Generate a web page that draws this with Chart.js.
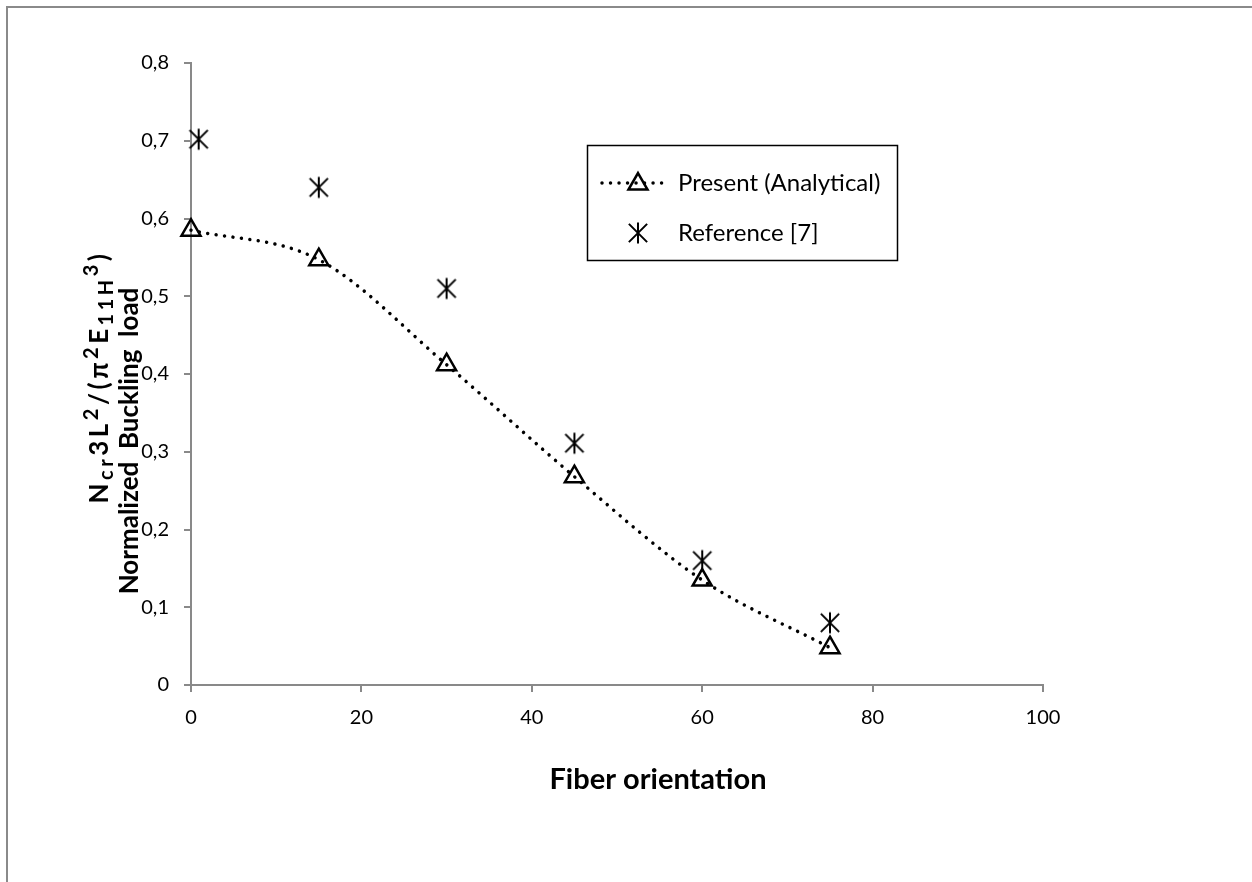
<!DOCTYPE html>
<html>
<head>
<meta charset="utf-8">
<script src="https://cdn.jsdelivr.net/npm/chart.js"></script>
<style>
  body { margin: 0; background: #fff; }
  #wrap { width: 1252px; height: 882px; position: relative; }
</style>
</head>
<body>
<div id="wrap"><canvas id="bucklingChart"></canvas></div>
<script>
// fiber orientation (deg)
const angles = [0, 15, 30, 45, 60, 75];
const presentVals = [0.585, 0.547, 0.412, 0.268, 0.135, 0.048];
const refAngles = [0.9, 15, 30, 45, 60, 75];
const refVals = [0.702, 0.640, 0.510, 0.311, 0.160, 0.080];
const xTicks = [0, 20, 40, 60, 80, 100];
const yTicks = [0, 0.1, 0.2, 0.3, 0.4, 0.5, 0.6, 0.7, 0.8];

const FONT = 'Lato, "Open Sans", sans-serif';
const AXIS_GRAY = '#898989';

// asterisk marker (X plus a vertical bar)
function makeStar(size) {
    const c = document.createElement('canvas');
    c.width = size; c.height = size;
    const g = c.getContext('2d');
    const m = size / 2, r = size / 2 - 1.5;
    g.strokeStyle = '#000';
    g.lineWidth = 2;
    g.beginPath();
    g.moveTo(m, m - r); g.lineTo(m, m + r);
    g.moveTo(m - r * 0.87, m - r * 0.87); g.lineTo(m + r * 0.87, m + r * 0.87);
    g.moveTo(m + r * 0.87, m - r * 0.87); g.lineTo(m - r * 0.87, m + r * 0.87);
    g.stroke();
    return c;
}
const starImg = makeStar(24);

function drawTriangle(ctx, x, y, r) {
    ctx.beginPath();
    let rad = 0;
    ctx.moveTo(x + Math.sin(rad) * r, y - Math.cos(rad) * r);
    rad += Math.PI * 2 / 3;
    ctx.lineTo(x + Math.sin(rad) * r, y - Math.cos(rad) * r);
    rad += Math.PI * 2 / 3;
    ctx.lineTo(x + Math.sin(rad) * r, y - Math.cos(rad) * r);
    ctx.closePath();
    ctx.stroke();
}

// text with sub/superscripts, centred along the baseline at (cx, baseY)
function drawRich(ctx, segs, cx, baseY, size, spacing) {
    const big = 'bold ' + size + 'px ' + FONT;
    const small = 'bold ' + Math.round(size * 0.78) + 'px ' + FONT;
    let total = 0;
    segs.forEach(s => { ctx.font = s[1] === 'n' ? big : small; total += ctx.measureText(s[0]).width + spacing * s[0].length; });
    let x = cx - total / 2;
    ctx.textAlign = 'left';
    ctx.textBaseline = 'alphabetic';
    segs.forEach(s => {
        ctx.font = s[1] === 'n' ? big : small;
        let dy = 0;
        if (s[1] === 'sub') dy = size * 0.2;
        if (s[1] === 'sup') dy = -size * 0.4;
        for (const ch of s[0]) {
            ctx.fillText(ch, x, baseY + dy);
            x += ctx.measureText(ch).width + spacing;
        }
    });
}

const extras = {
    id: 'extras',
    beforeDraw(chart) {
        const ctx = chart.ctx;
        ctx.save();
        ctx.strokeStyle = '#8a8a8a';
        ctx.lineWidth = 2;
        ctx.beginPath();
        ctx.moveTo(7, 900); ctx.lineTo(7, 7); ctx.lineTo(1260, 7);
        ctx.stroke();
        ctx.restore();
    },
    afterDraw(chart) {
        const ctx = chart.ctx;
        ctx.save();
        ctx.fillStyle = '#000';

        // x title
        ctx.font = 'bold 29px ' + FONT;
        ctx.textAlign = 'center';
        ctx.textBaseline = 'middle';
        ctx.fillText('Fiber orientation', 658, 780);

        // y title, two lines rotated (local +y points to the right of the page)
        ctx.save();
        ctx.translate(0, 377);
        ctx.rotate(-Math.PI / 2);
        drawRich(ctx, [
            ['N', 'n'], ['cr', 'sub'], ['3L', 'n'], ['2', 'sup'], ['/(\u03c0', 'n'], ['2', 'sup'],
            ['E', 'n'], ['11H', 'sub'], ['3', 'sup'], [')', 'n']
        ], 0, 108, 26, 3.5);
        ctx.restore();
        ctx.save();
        ctx.translate(0, 441);
        ctx.rotate(-Math.PI / 2);
        ctx.font = 'bold 26px ' + FONT;
        ctx.textAlign = 'center';
        ctx.textBaseline = 'alphabetic';
        ctx.fillText('Normalized  Buckling  load', 0, 138);
        ctx.restore();

        // legend
        ctx.strokeStyle = '#000';
        ctx.lineWidth = 1.5;
        ctx.strokeRect(587.5, 145.5, 310, 115);
        ctx.lineWidth = 3.5;
        ctx.lineCap = 'round';
        ctx.setLineDash([0.01, 8.5]);
        ctx.beginPath();
        ctx.moveTo(602, 183); ctx.lineTo(670, 183);
        ctx.stroke();
        ctx.setLineDash([]);
        ctx.lineWidth = 2.5;
        ctx.lineCap = 'butt';
        drawTriangle(ctx, 638, 184, 11);
        ctx.drawImage(starImg, 638 - 12, 233 - 12);
        ctx.font = '24px ' + FONT;
        ctx.textAlign = 'left';
        ctx.textBaseline = 'middle';
        ctx.fillText('Present (Analytical)', 678, 183);
        ctx.fillText('Reference [7]', 678, 233);
        ctx.restore();
    }
};

new Chart(document.getElementById('bucklingChart'), {
    type: 'line',
    data: {
        datasets: [
            {
                label: 'Present (Analytical)',
                data: angles.map((a, i) => ({ x: a, y: presentVals[i] })),
                borderColor: '#000',
                borderWidth: 3.5,
                borderDash: [0.01, 8.5],
                borderCapStyle: 'round',
                cubicInterpolationMode: 'monotone',
                pointStyle: 'triangle',
                pointRadius: 11,
                pointBorderWidth: 2.5,
                pointBorderColor: '#000',
                pointBackgroundColor: 'rgba(0,0,0,0)',
                clip: false,
                fill: false
            },
            {
                label: 'Reference [7]',
                data: refAngles.map((a, i) => ({ x: a, y: refVals[i] })),
                showLine: false,
                pointStyle: starImg,
                pointRadius: 12,
                clip: false
            }
        ]
    },
    options: {
        responsive: true,
        maintainAspectRatio: false,
        animation: false,
        layout: { padding: { left: 0, top: 63, right: 209, bottom: 0 } },
        plugins: { legend: { display: false }, tooltip: { enabled: false } },
        scales: {
            x: {
                type: 'linear',
                min: 0, max: 100,
                afterBuildTicks: s => { s.ticks = xTicks.map(v => ({ value: v })); },
                afterFit: s => { s.height = 197; },
                ticks: { color: '#000', font: { family: FONT, size: 20 }, padding: 14 },
                grid: { drawOnChartArea: false, drawTicks: true, tickLength: 7, color: AXIS_GRAY, lineWidth: 2 },
                border: { color: AXIS_GRAY, width: 2 }
            },
            y: {
                min: 0, max: 0.8,
                afterBuildTicks: s => { s.ticks = yTicks.map(v => ({ value: v })); },
                afterFit: s => { s.width = 191; },
                ticks: {
                    color: '#000', font: { family: FONT, size: 20 }, padding: 15,
                    callback: v => v === 0 ? '0' : v.toFixed(1).replace('.', ',')
                },
                grid: { drawOnChartArea: false, drawTicks: true, tickLength: 7, color: AXIS_GRAY, lineWidth: 2 },
                border: { color: AXIS_GRAY, width: 2 }
            }
        }
    },
    plugins: [extras]
});
</script>
</body>
</html>
